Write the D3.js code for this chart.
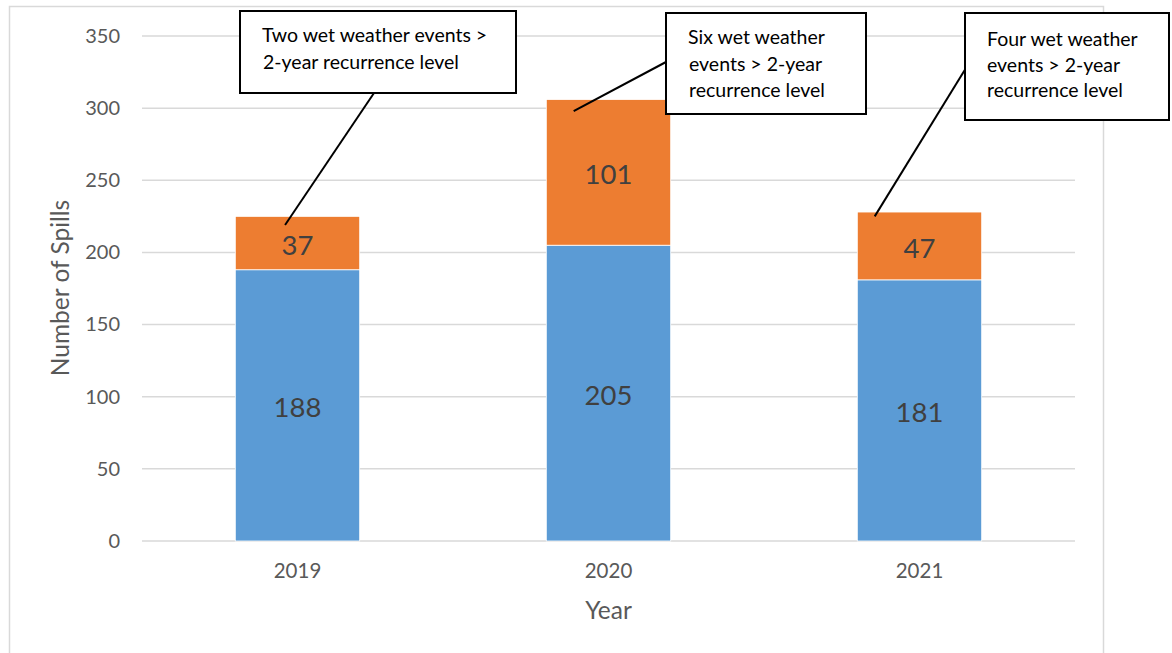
<!DOCTYPE html>
<html><head><meta charset="utf-8">
<script src="https://cdn.jsdelivr.net/npm/d3@7"></script>
<style>
html,body{margin:0;padding:0;background:#fff;}
svg{display:block;font-family:Lato,"Open Sans",sans-serif;}
</style></head>
<body>
<svg id="chart" width="1172" height="653"></svg>
<script>
const years = ["2019", "2020", "2021"];
const baseSpills = [188, 205, 181];
const wetSpills = [37, 101, 47];
const yTicks = [0, 50, 100, 150, 200, 250, 300, 350];
const annotationTexts = [
  ["Two wet weather events >", "2-year recurrence level"],
  ["Six wet weather", "events > 2-year", "recurrence level"],
  ["Four wet weather", "events > 2-year", "recurrence level"]
];
// annotation pointer targets: value on y axis and x fraction across the bar
const annotationTargetValue = [219, 298, 225];
const annotationTargetFrac = [0.4, 0.22, 0.14];

const svg = d3.select("#chart");
const x = d3.scaleBand().domain(years).range([142, 1075]).paddingInner(0.6).paddingOuter(0.3);
const y = d3.scaleLinear().domain([0, 350]).range([541, 36]);

// chart border
svg.append("rect").attr("x", 9.5).attr("y", 6.5).attr("width", 1094).attr("height", 660)
  .attr("fill", "none").attr("stroke", "#d9d9d9").attr("stroke-width", 1.5);

// gridlines
svg.append("g").selectAll("line").data(yTicks).join("line")
  .attr("x1", 142).attr("x2", 1075)
  .attr("y1", d => y(d)).attr("y2", d => y(d))
  .attr("stroke", "#d9d9d9").attr("stroke-width", 1.5);

// y axis labels
const yAxis = svg.append("g").attr("transform", "translate(126,0)")
  .call(d3.axisLeft(y).tickValues(yTicks).tickSize(0).tickPadding(6));
yAxis.select(".domain").remove();
yAxis.selectAll("text").attr("font-size", 20).attr("fill", "#595959").attr("font-family", "Lato");

// x axis labels
const xAxis = svg.append("g").attr("transform", "translate(0,541)")
  .call(d3.axisBottom(x).tickSize(0).tickPadding(22));
xAxis.select(".domain").remove();
xAxis.selectAll("text").attr("font-size", 20.5).attr("fill", "#595959").attr("font-family", "Lato");

// stacked bars
const rows = years.map((yr, i) => ({year: yr, base: baseSpills[i], wet: wetSpills[i]}));
const stack = d3.stack().keys(["base", "wet"])(rows);
const colors = {base: "#5b9bd5", wet: "#ed7d31"};
const layers = svg.append("g").selectAll("g").data(stack).join("g")
  .attr("fill", d => colors[d.key]);
layers.selectAll("rect").data(d => d).join("rect")
  .attr("x", d => x(d.data.year))
  .attr("width", x.bandwidth())
  .attr("y", d => y(d[1]))
  .attr("height", d => y(d[0]) - y(d[1]))
  .attr("stroke", "#fff").attr("stroke-width", 0.8);

// data labels
layers.selectAll("text").data(d => d).join("text")
  .attr("x", d => x(d.data.year) + x.bandwidth() / 2)
  .attr("y", d => (y(d[0]) + y(d[1])) / 2 + 12)
  .attr("text-anchor", "middle")
  .attr("font-size", 27.5).attr("fill", "#404040")
  .text(d => d[1] - d[0]);

// axis titles
svg.append("text").attr("transform", "translate(69,288) rotate(-90)")
  .attr("text-anchor", "middle").attr("font-size", 24.5).attr("fill", "#595959")
  .text("Number of Spills");
svg.append("text").attr("x", (x.range()[0] + x.range()[1]) / 2).attr("y", 619)
  .attr("text-anchor", "middle").attr("font-size", 24.5).attr("fill", "#595959")
  .text("Year");

// annotation boxes (layout)
const boxes = [
  {x: 240, y: 11, w: 276, h: 82, tx: [262, 263], ty: 42, lh: 27, ax: 374, ay: 93},
  {x: 666, y: 13, w: 200, h: 101, tx: [688, 689, 689], ty: 44, lh: 26.5, ax: 666, ay: 62},
  {x: 965, y: 13, w: 204, h: 107, tx: [987, 987, 987], ty: 46, lh: 25.5, ax: 966, ay: 68}
];
boxes.forEach((b, i) => {
  const tgx = x(years[i]) + annotationTargetFrac[i] * x.bandwidth();
  const tgy = y(annotationTargetValue[i]);
  svg.append("line").attr("x1", b.ax).attr("y1", b.ay).attr("x2", tgx).attr("y2", tgy)
    .attr("stroke", "#000").attr("stroke-width", 2);
  svg.append("rect").attr("x", b.x).attr("y", b.y).attr("width", b.w).attr("height", b.h)
    .attr("fill", "#fff").attr("stroke", "#000").attr("stroke-width", 2);
  const t = svg.append("text").attr("font-size", 19.5).attr("fill", "#000");
  annotationTexts[i].forEach((ln, j) => {
    t.append("tspan").attr("x", b.tx[j]).attr("y", b.ty + j * b.lh).text(ln);
  });
});
</script>
</body></html>
